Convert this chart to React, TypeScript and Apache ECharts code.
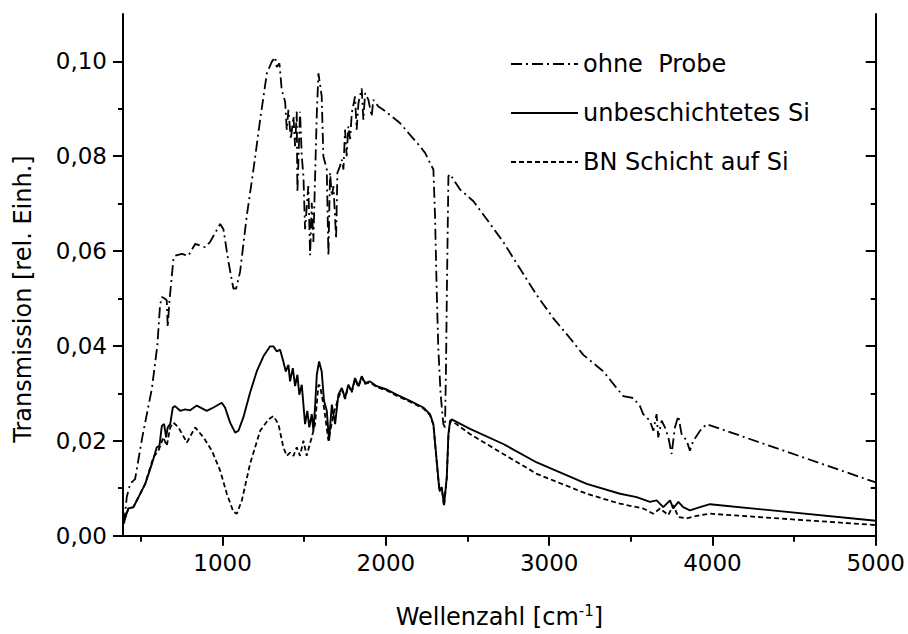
import React, { useEffect, useRef } from "react";
import * as echarts from "echarts";

const xMajorTicks = [1000, 2000, 3000, 4000, 5000];
const xMinorTicks = [500, 1500, 2500, 3500, 4500];
const yMajorTicks = [0, 0.02, 0.04, 0.06, 0.08, 0.1];
const yMinorTicks = [0.01, 0.03, 0.05, 0.07, 0.09];

const seriesNames = ["ohne  Probe", "unbeschichtetes Si", "BN Schicht auf Si"];

const ohneProbe: [number, number][] = [
  [397, 0.0025], [413, 0.0081], [434, 0.0109], [464, 0.0119], [508, 0.0207], [567, 0.031], [600, 0.04],
  [617, 0.0486], [628, 0.0503], [645, 0.05], [658, 0.0496], [664, 0.044], [674, 0.0493], [699, 0.0584],
  [709, 0.059], [750, 0.0594], [790, 0.059], [832, 0.0615], [893, 0.0608], [923, 0.0619], [985, 0.0657],
  [1005, 0.0646], [1036, 0.0577], [1066, 0.0521], [1083, 0.0521], [1107, 0.0556], [1148, 0.0674],
  [1189, 0.0772], [1230, 0.0877], [1271, 0.0975], [1301, 0.0999], [1321, 0.1009], [1332, 0.0988],
  [1348, 0.0996], [1362, 0.094], [1383, 0.0915], [1393, 0.0856], [1403, 0.0898], [1418, 0.0836],
  [1434, 0.0884], [1444, 0.0821], [1454, 0.0894], [1458, 0.0723], [1474, 0.0894], [1485, 0.08],
  [1495, 0.0758], [1505, 0.0646], [1525, 0.0737], [1536, 0.0591], [1546, 0.0702], [1556, 0.0619],
  [1566, 0.0751], [1577, 0.0891], [1587, 0.0975], [1607, 0.0926], [1617, 0.08], [1638, 0.0772],
  [1648, 0.059], [1658, 0.0765], [1669, 0.0716], [1679, 0.0737], [1695, 0.0626], [1703, 0.0765],
  [1719, 0.0779], [1730, 0.0793], [1740, 0.0772], [1750, 0.0856], [1760, 0.08], [1770, 0.0863],
  [1781, 0.0836], [1791, 0.0891], [1811, 0.0926], [1821, 0.0856], [1832, 0.0912], [1852, 0.0943],
  [1862, 0.0877], [1873, 0.0933], [1893, 0.0919], [1913, 0.0884], [1923, 0.0919], [1954, 0.0905],
  [1984, 0.0898], [2025, 0.0887], [2086, 0.087], [2148, 0.0845], [2209, 0.0821], [2240, 0.0807],
  [2270, 0.0786], [2291, 0.0772], [2301, 0.0674], [2311, 0.052], [2321, 0.0395], [2335, 0.03],
  [2345, 0.026], [2352, 0.0235], [2362, 0.0228], [2368, 0.035], [2373, 0.05], [2383, 0.0758],
  [2393, 0.0762], [2454, 0.073], [2536, 0.0705], [2618, 0.0667], [2719, 0.0619], [2821, 0.0563],
  [2924, 0.0507], [3026, 0.0458], [3128, 0.0416], [3209, 0.0381], [3332, 0.0346], [3413, 0.0311],
  [3454, 0.0294], [3515, 0.029], [3556, 0.0273], [3576, 0.0256], [3617, 0.0242], [3638, 0.0221],
  [3658, 0.0256], [3668, 0.0207], [3689, 0.0242], [3709, 0.0228], [3730, 0.0207], [3750, 0.0172],
  [3770, 0.0228], [3791, 0.0252], [3811, 0.0214], [3842, 0.02], [3862, 0.0179], [3883, 0.02],
  [3924, 0.0221], [3964, 0.0235], [5000, 0.0112],
];

const unbeschichtet: [number, number][] = [
  [398, 0.0032], [423, 0.0057], [454, 0.006], [485, 0.0081], [526, 0.0109], [567, 0.0151], [597, 0.0186],
  [613, 0.0189], [628, 0.0231], [642, 0.0235], [654, 0.0207], [664, 0.0228], [679, 0.0235], [695, 0.027],
  [709, 0.0273], [740, 0.0263], [770, 0.0266], [801, 0.0264], [842, 0.0274], [903, 0.0263], [944, 0.027],
  [995, 0.028], [1015, 0.027], [1046, 0.0238], [1077, 0.0217], [1097, 0.0221], [1127, 0.0249],
  [1168, 0.0301], [1209, 0.0346], [1250, 0.0378], [1291, 0.0399], [1311, 0.0399], [1332, 0.0388],
  [1352, 0.0392], [1372, 0.0367], [1387, 0.0346], [1403, 0.036], [1413, 0.0325], [1430, 0.0353],
  [1444, 0.0315], [1458, 0.0339], [1470, 0.0297], [1485, 0.0318], [1495, 0.0276], [1505, 0.0235],
  [1519, 0.0263], [1531, 0.0228], [1546, 0.0256], [1556, 0.0221], [1566, 0.027], [1577, 0.0339],
  [1591, 0.0367], [1607, 0.0346], [1621, 0.0284], [1638, 0.0263], [1652, 0.02], [1669, 0.0276],
  [1689, 0.0235], [1709, 0.0297], [1730, 0.0311], [1750, 0.029], [1770, 0.0318], [1791, 0.0304],
  [1811, 0.0332], [1832, 0.0315], [1852, 0.0336], [1872, 0.0322], [1903, 0.0325], [1944, 0.0315],
  [2005, 0.0308], [2066, 0.0297], [2148, 0.0284], [2229, 0.027], [2270, 0.0256], [2291, 0.0235],
  [2311, 0.0158], [2328, 0.0095], [2342, 0.0102], [2356, 0.0064], [2373, 0.0123], [2383, 0.0214],
  [2393, 0.0242], [2403, 0.0245], [2515, 0.0225], [2719, 0.0193], [2924, 0.0154], [3230, 0.0109],
  [3434, 0.0088], [3536, 0.0081], [3617, 0.0071], [3658, 0.0074], [3699, 0.006], [3740, 0.0074],
  [3760, 0.0057], [3791, 0.0071], [3821, 0.006], [3862, 0.0053], [3924, 0.006], [3985, 0.0066],
  [5000, 0.0031],
];

const bnSchicht: [number, number][] = [
  [398, 0.0032], [423, 0.0057], [454, 0.006], [485, 0.0081], [526, 0.0109], [576, 0.0165], [607, 0.0179],
  [637, 0.0207], [658, 0.0189], [679, 0.0228], [699, 0.0238], [730, 0.0228], [781, 0.0196], [832, 0.0228],
  [883, 0.0207], [934, 0.0179], [985, 0.0137], [1026, 0.0088], [1066, 0.005], [1087, 0.0046],
  [1118, 0.0074], [1168, 0.0151], [1230, 0.0221], [1281, 0.0245], [1311, 0.0252], [1342, 0.0235],
  [1372, 0.0186], [1393, 0.0168], [1413, 0.0175], [1434, 0.0168], [1454, 0.0186], [1474, 0.0168],
  [1495, 0.02], [1515, 0.0168], [1531, 0.0189], [1546, 0.0207], [1566, 0.0235], [1587, 0.0318],
  [1597, 0.0315], [1621, 0.027], [1648, 0.02], [1679, 0.0256], [1709, 0.029], [1730, 0.0308],
  [1750, 0.0288], [1770, 0.0316], [1791, 0.0302], [1811, 0.033], [1832, 0.0313], [1852, 0.0334],
  [1872, 0.032], [1903, 0.0323], [1944, 0.0313], [2005, 0.0306], [2066, 0.0295], [2148, 0.0282],
  [2229, 0.0268], [2270, 0.0254], [2291, 0.0233], [2311, 0.0156], [2328, 0.0093], [2342, 0.01],
  [2356, 0.0062], [2373, 0.0121], [2383, 0.021], [2393, 0.0238], [2403, 0.0242], [2515, 0.0214],
  [2719, 0.0172], [2924, 0.013], [3230, 0.0088], [3434, 0.0067], [3576, 0.0057], [3638, 0.0046],
  [3679, 0.0057], [3730, 0.0043], [3760, 0.0064], [3791, 0.0039], [3842, 0.0036], [3924, 0.0043],
  [3985, 0.0046], [5000, 0.0022],
];

const FONT = "DejaVu Sans";
const X_MIN = 390;
const X_MAX = 5000;
const Y_MIN = 0;
const Y_MAX = 0.11;

const dashDot = [11, 4, 2, 4];
const dashed = [5, 3];

export default function App() {
  const ref = useRef<HTMLDivElement>(null);

  useEffect(() => {
    document.body.style.margin = "0";
    if (!ref.current) return;
    const chart = echarts.init(ref.current, null, { renderer: "svg" });
    const axisLine = { show: true, lineStyle: { color: "#000", width: 2 } };
    const noLine = { show: false };
    const tickStyle = { color: "#000", width: 2 };

    const xBase = { type: "value", min: X_MIN, max: X_MAX, splitLine: { show: false } };
    const yBase = { type: "value", min: Y_MIN, max: Y_MAX, splitLine: { show: false } };

    chart.setOption({
      animation: false,
      backgroundColor: "#fff",
      grid: { left: 123, right: 32, top: 14, bottom: 95 },
      legend: {
        orient: "vertical",
        left: 505,
        top: 47,
        itemWidth: 67,
        itemHeight: 14,
        itemGap: 25,
        itemStyle: { opacity: 0 },
        textStyle: { fontSize: 24, fontFamily: FONT, color: "#000" },
        data: seriesNames,
      },
      xAxis: [
        {
          ...xBase,
          position: "bottom",
          axisLine,
          axisTick: { show: true, length: 10, lineStyle: tickStyle, customValues: xMajorTicks },
          axisLabel: {
            show: true,
            customValues: xMajorTicks,
            fontSize: 23,
            fontFamily: FONT,
            color: "#000",
            margin: 16,
            formatter: (v: number) => String(Math.round(v)),
          },
          name: "Wellenzahl [cm{sup|-1}]",
          nameLocation: "middle",
          nameGap: 68,
          nameTextStyle: {
            fontSize: 24,
            fontFamily: FONT,
            color: "#000",
            rich: {
              sup: { fontSize: 15, fontFamily: FONT, color: "#000", verticalAlign: "top", padding: [0, 0, 12, 0] },
            },
          },
        },
        {
          ...xBase,
          position: "bottom",
          axisLine: noLine,
          axisTick: { show: true, length: 6, lineStyle: tickStyle, customValues: xMinorTicks },
          axisLabel: { show: false },
        },
        {
          ...xBase,
          position: "top",
          axisLine,
          axisTick: { show: true, inside: true, length: 10, lineStyle: tickStyle, customValues: xMajorTicks },
          axisLabel: { show: false },
        },
        {
          ...xBase,
          position: "top",
          axisLine: noLine,
          axisTick: { show: true, inside: true, length: 6, lineStyle: tickStyle, customValues: xMinorTicks },
          axisLabel: { show: false },
        },
      ],
      yAxis: [
        {
          ...yBase,
          position: "left",
          axisLine,
          axisTick: { show: true, length: 10, lineStyle: tickStyle, customValues: yMajorTicks },
          axisLabel: {
            show: true,
            customValues: yMajorTicks,
            fontSize: 23,
            fontFamily: FONT,
            color: "#000",
            margin: 16,
            formatter: (v: number) => v.toFixed(2).replace(".", ","),
          },
        },
        {
          ...yBase,
          position: "left",
          axisLine: noLine,
          axisTick: { show: true, length: 5, lineStyle: tickStyle, customValues: yMinorTicks },
          axisLabel: { show: false },
        },
        {
          ...yBase,
          position: "right",
          axisLine,
          axisTick: { show: true, inside: true, length: 10, lineStyle: tickStyle, customValues: yMajorTicks },
          axisLabel: { show: false },
        },
        {
          ...yBase,
          position: "right",
          axisLine: noLine,
          axisTick: { show: true, inside: true, length: 5, lineStyle: tickStyle, customValues: yMinorTicks },
          axisLabel: { show: false },
        },
      ],
      graphic: [
        {
          type: "text",
          x: 23,
          y: 299,
          rotation: Math.PI / 2,
          style: {
            text: "Transmission [rel. Einh.]",
            fontSize: 24,
            fontFamily: FONT,
            fill: "#000",
            textAlign: "center",
            textVerticalAlign: "middle",
            verticalAlign: "middle",
          },
        },
      ],
      series: [
        {
          name: seriesNames[0],
          type: "line",
          data: ohneProbe,
          symbol: "none",
          showSymbol: false,
          lineStyle: { color: "#000", width: 1.8, type: dashDot },
          itemStyle: { color: "#000" },
        },
        {
          name: seriesNames[1],
          type: "line",
          data: unbeschichtet,
          symbol: "none",
          showSymbol: false,
          lineStyle: { color: "#000", width: 1.9, type: "solid" },
          itemStyle: { color: "#000" },
        },
        {
          name: seriesNames[2],
          type: "line",
          data: bnSchicht,
          symbol: "none",
          showSymbol: false,
          lineStyle: { color: "#000", width: 1.8, type: dashed },
          itemStyle: { color: "#000" },
        },
      ],
    });
    return () => chart.dispose();
  }, []);

  return <div ref={ref} style={{ width: 908, height: 634 }} />;
}
